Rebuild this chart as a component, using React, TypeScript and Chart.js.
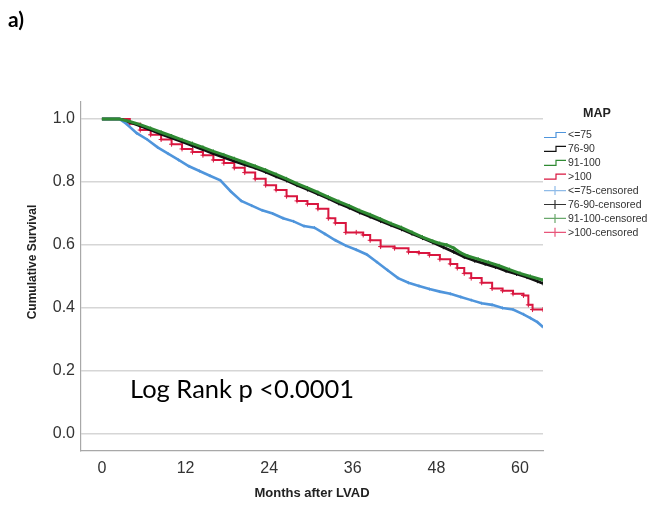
import React, { useEffect, useRef } from "react";
import { Chart, registerables } from "chart.js";

Chart.register(...registerables);

// ---- Data (months after LVAD, cumulative survival) ----
const seriesLabels = ["<=75", "76-90", "91-100", ">100"];
const censoredLabels = ["<=75-censored", "76-90-censored", "91-100-censored", ">100-censored"];

const surv75: [number, number][] = [
  [0, 1.0], [2.5, 1.0], [3.5, 0.985], [5, 0.955], [6.5, 0.935], [8, 0.91], [9.5, 0.89], [11, 0.87],
  [12.5, 0.85], [14, 0.835], [15.5, 0.82], [17, 0.805], [18.5, 0.77], [20, 0.74], [21.5, 0.725],
  [23, 0.71], [24.5, 0.7], [26, 0.685], [27.5, 0.675], [29, 0.66], [30.5, 0.655], [32, 0.635],
  [33.5, 0.615], [35, 0.598], [36.5, 0.585], [38, 0.57], [39.5, 0.545], [41, 0.52], [42.5, 0.495],
  [44, 0.48], [45.5, 0.47], [47, 0.46], [48.5, 0.452], [50, 0.445], [51.5, 0.435], [53, 0.425],
  [54.5, 0.415], [56, 0.41], [57.5, 0.4], [59, 0.395], [60.5, 0.38], [61.5, 0.368], [62.5, 0.355],
  [63.3, 0.34],
];

const surv7690: [number, number][] = [
  [0, 1.0], [2.5, 1.0], [4, 0.99], [5.5, 0.978], [7, 0.965], [8.5, 0.952], [10, 0.94], [11.5, 0.928],
  [13, 0.915], [14.5, 0.903], [16, 0.89], [17.5, 0.878], [19, 0.866], [20.5, 0.855], [22, 0.845],
  [23.5, 0.832], [25, 0.818], [26.5, 0.805], [28, 0.79], [29.5, 0.776], [31, 0.762], [32.5, 0.748],
  [34, 0.732], [35.5, 0.718], [37, 0.703], [38.5, 0.69], [40, 0.676], [41.5, 0.663], [43, 0.65],
  [44.5, 0.636], [46, 0.622], [47.5, 0.608], [49, 0.593], [50.5, 0.578], [52, 0.562], [53.5, 0.55],
  [55, 0.54], [56.5, 0.53], [58, 0.518], [59.5, 0.508], [61, 0.498], [62.5, 0.485], [63.3, 0.478],
];

const surv91100: [number, number][] = [
  [0, 1.0], [2.5, 1.0], [4, 0.992], [5.5, 0.982], [7, 0.97], [8.5, 0.958], [10, 0.946], [11.5, 0.934],
  [13, 0.922], [14.5, 0.91], [16, 0.897], [17.5, 0.886], [19, 0.874], [20.5, 0.862], [22, 0.85],
  [23.5, 0.838], [25, 0.824], [26.5, 0.81], [28, 0.795], [29.5, 0.781], [31, 0.767], [32.5, 0.752],
  [34, 0.738], [35.5, 0.724], [37, 0.709], [38.5, 0.696], [40, 0.682], [41.5, 0.668], [43, 0.655],
  [44.5, 0.64], [46, 0.625], [47.5, 0.612], [48.5, 0.605], [49.5, 0.6], [50.5, 0.59], [51.5, 0.575],
  [52.5, 0.565], [54, 0.555], [55.5, 0.545], [57, 0.534], [58.5, 0.522], [60, 0.51], [61.5, 0.5],
  [63.3, 0.489],
];

const surv100: [number, number][] = [
  [0, 1.0], [2.5, 1.0], [4, 0.985], [5.5, 0.965], [7, 0.95], [8.5, 0.935], [10, 0.92], [11.5, 0.905],
  [13, 0.895], [14.5, 0.885], [16, 0.87], [17.5, 0.86], [19, 0.845], [20.5, 0.83], [22, 0.81],
  [23.5, 0.79], [25, 0.775], [26.5, 0.755], [28, 0.74], [29.5, 0.73], [31, 0.715], [32.5, 0.685],
  [33.5, 0.67], [35, 0.64], [36.5, 0.64], [37.5, 0.632], [38.5, 0.615], [40, 0.595], [42, 0.59],
  [44, 0.578], [45.5, 0.575], [47, 0.568], [48.5, 0.555], [50, 0.54], [51, 0.527], [52, 0.51],
  [53, 0.495], [54.5, 0.48], [56, 0.462], [57.5, 0.455], [59, 0.445], [60.5, 0.44], [61.2, 0.41],
  [61.8, 0.395], [63.3, 0.395],
];

const xTicks = [0, 12, 24, 36, 48, 60];
const yTicks = [0.0, 0.2, 0.4, 0.6, 0.8, 1.0];

const seriesColors = ["#4f95dc", "#111111", "#2f8a33", "#d9163f"];
const censoredColors = ["#8fbbe8", "#333333", "#6aa86c", "#e8557a"];
const seriesWidths = [2.6, 2.8, 3.0, 2.0];
const seriesStepped = [false, false, false, true];
const censorRadius = [1.5, 2, 2, 2.5];

const allSeries = [surv75, surv7690, surv91100, surv100];

const FONT = "'Liberation Sans', Arial, sans-serif";

const overlayPlugin = {
  id: "overlay",
  afterDraw(chart: any) {
    const ctx = chart.ctx as CanvasRenderingContext2D;
    const area = chart.chartArea;
    ctx.save();
    // panel label
    ctx.fillStyle = "#000";
    ctx.font = "bold 21px Lato, 'Open Sans', sans-serif";
    ctx.textAlign = "left";
    ctx.textBaseline = "alphabetic";
    ctx.fillText("a)", 8, 27);

    // axis titles
    ctx.fillStyle = "#222";
    ctx.font = `bold 13px ${FONT}`;
    ctx.textAlign = "center";
    ctx.textBaseline = "middle";
    ctx.fillText("Months after LVAD", (area.left + area.right) / 2, 493);
    ctx.save();
    ctx.translate(33, 262);
    ctx.rotate(-Math.PI / 2);
    ctx.font = `bold 12px ${FONT}`;
    ctx.fillText("Cumulative Survival", 0, 0);
    ctx.restore();

    // annotation
    ctx.fillStyle = "#000";
    ctx.font = "25.5px Lato, 'Open Sans', sans-serif";
    ctx.textAlign = "left";
    ctx.textBaseline = "alphabetic";
    ctx.fillText("Log Rank p <0.0001", 130, 398);

    // legend
    ctx.fillStyle = "#222";
    ctx.font = `bold 12.5px ${FONT}`;
    ctx.textAlign = "center";
    ctx.textBaseline = "middle";
    ctx.fillText("MAP", 597, 114);

    const rowY0 = 135;
    const rowStep = 13.9;
    const x0 = 544;
    const x1 = 566;
    ctx.font = `10.5px ${FONT}`;
    ctx.textAlign = "left";
    for (let i = 0; i < 8; i++) {
      const y = rowY0 + i * rowStep;
      ctx.lineWidth = 1.2;
      if (i < 4) {
        ctx.strokeStyle = seriesColors[i];
        ctx.beginPath();
        ctx.moveTo(x0, y + 2.5);
        ctx.lineTo(x0 + 12, y + 2.5);
        ctx.lineTo(x0 + 12, y - 2.5);
        ctx.lineTo(x1, y - 2.5);
        ctx.stroke();
      } else {
        ctx.strokeStyle = censoredColors[i - 4];
        ctx.beginPath();
        ctx.moveTo(x0, y);
        ctx.lineTo(x1, y);
        ctx.moveTo(x0 + 11, y - 4.5);
        ctx.lineTo(x0 + 11, y + 4.5);
        ctx.stroke();
      }
      ctx.fillStyle = "#333";
      const label = i < 4 ? seriesLabels[i] : censoredLabels[i - 4];
      ctx.fillText(label, x1 + 2, y + 0.5);
    }
    ctx.restore();
  },
};

export default function App() {
  const ref = useRef<HTMLCanvasElement | null>(null);

  useEffect(() => {
    if (!ref.current) return;
    const lineSets = allSeries.map((s, i) => ({
      label: seriesLabels[i],
      data: s.map(([x, y]) => ({ x, y })),
      borderColor: seriesColors[i],
      backgroundColor: seriesColors[i],
      borderWidth: seriesWidths[i],
      pointRadius: 0,
      stepped: seriesStepped[i],
      tension: 0,
      fill: false,
      order: i === 2 ? 0 : 1,
    }));
    const censorSets = allSeries.map((s, i) => ({
      label: censoredLabels[i],
      data: s.slice(2).map(([x, y]) => ({ x, y })),
      showLine: false,
      borderColor: seriesColors[i],
      backgroundColor: seriesColors[i],
      pointStyle: "cross",
      pointRadius: censorRadius[i],
      pointBorderWidth: 1,
      order: 2,
    }));
    const chart = new Chart(ref.current, {
      type: "line",
      data: { datasets: [...lineSets, ...censorSets] as any },
      plugins: [overlayPlugin],
      options: {
        animation: false,
        responsive: false,
        devicePixelRatio: 1,
        layout: { padding: { left: 0, right: 105, top: 102, bottom: 0 } },
        plugins: { legend: { display: false }, tooltip: { enabled: false } },
        scales: {
          x: {
            type: "linear",
            min: -3,
            max: 63.3,
            afterFit: (s: any) => {
              s.height = 56;
            },
            afterBuildTicks: (s: any) => {
              s.ticks = xTicks.map((v) => ({ value: v }));
            },
            grid: { display: false, drawTicks: false },
            border: { display: true, color: "#a8a8a8", width: 1.2 },
            ticks: {
              padding: 8,
              color: "#333",
              font: { family: FONT, size: 16 },
              maxRotation: 0,
              callback: (v: any) => String(v),
            },
          },
          y: {
            type: "linear",
            min: -0.054,
            max: 1.054,
            afterFit: (s: any) => {
              s.width = 81;
            },
            afterBuildTicks: (s: any) => {
              s.ticks = yTicks.map((v) => ({ value: v }));
            },
            grid: { color: "#d6d6d6", lineWidth: 1.5, drawTicks: false },
            border: { display: true, color: "#a8a8a8", width: 1.2 },
            ticks: {
              padding: 6,
              color: "#333",
              font: { family: FONT, size: 16 },
              callback: (v: any) => Number(v).toFixed(1),
            },
          },
        },
      } as any,
    });
    return () => chart.destroy();
  }, []);

  return (
    <div style={{ position: "absolute", left: 0, top: 0, width: 648, height: 507, background: "#fff" }}>
      <canvas ref={ref} width={648} height={507} style={{ display: "block", width: 648, height: 507 }} />
    </div>
  );
}
